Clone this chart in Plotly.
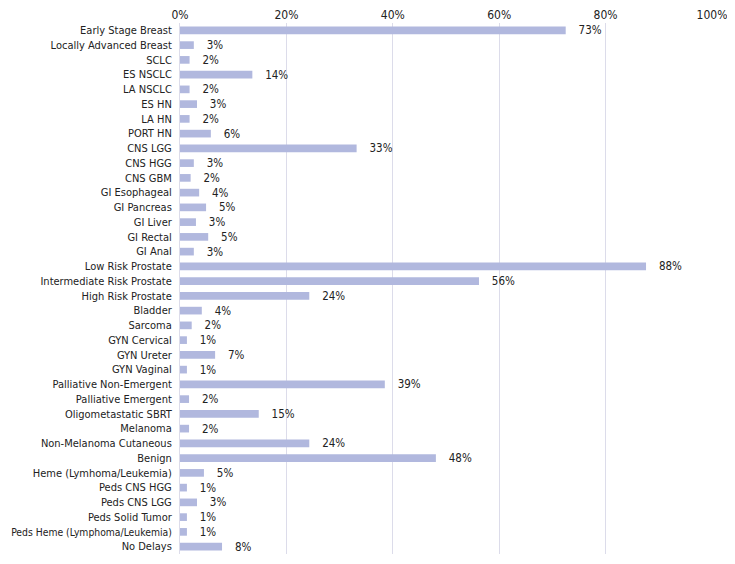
import plotly.graph_objects as go

# categories, top to bottom as in the chart
categories = [
    "Early Stage Breast", "Locally Advanced Breast", "SCLC", "ES NSCLC",
    "LA NSCLC", "ES HN", "LA HN", "PORT HN", "CNS LGG", "CNS HGG", "CNS GBM",
    "GI Esophageal", "GI Pancreas", "GI Liver", "GI Rectal", "GI Anal",
    "Low Risk Prostate", "Intermediate Risk Prostate", "High Risk Prostate",
    "Bladder", "Sarcoma", "GYN Cervical", "GYN Ureter", "GYN Vaginal",
    "Palliative Non-Emergent", "Palliative Emergent", "Oligometastatic SBRT",
    "Melanoma", "Non-Melanoma Cutaneous", "Benign",
    "Heme (Lymhoma/Leukemia)", "Peds CNS HGG", "Peds CNS LGG",
    "Peds Solid Tumor", "Peds Heme (Lymphoma/Leukemia)", "No Delays",
]

# share of respondents (%)
values = [
    72.5, 2.6, 1.8, 13.6, 1.8, 3.2, 1.8, 5.8, 33.2, 2.6, 2.0,
    3.6, 4.9, 3.0, 5.3, 2.6,
    87.6, 56.2, 24.3, 4.1, 2.2, 1.3, 6.6, 1.3,
    38.5, 1.7, 14.8, 1.7, 24.3, 48.1,
    4.5, 1.3, 3.2, 1.3, 1.3, 7.9,
]

# printed labels
labels = [
    "73%", "3%", "2%", "14%", "2%", "3%", "2%", "6%", "33%", "3%", "2%",
    "4%", "5%", "3%", "5%", "3%",
    "88%", "56%", "24%", "4%", "2%", "1%", "7%", "1%",
    "39%", "2%", "15%", "2%", "24%", "48%",
    "5%", "1%", "3%", "1%", "1%", "8%",
]

font_name = "DejaVu Sans Condensed"

# longest label would run off the left edge, so draw it a touch smaller
tick_text = []
for c in categories:
    if len(c) > 26:
        tick_text.append('<span style="font-size:10.3px">' + c + "</span>")
    else:
        tick_text.append(c)

fig = go.Figure()
fig.add_trace(go.Bar(
    x=values, y=categories, orientation="h",
    text=["   " + t for t in labels], textposition="outside",
    constraintext="none",
    textfont=dict(family=font_name, size=11.5, color="#222222"),
    cliponaxis=False,
    marker=dict(color="#b1b8de", line=dict(width=0)),
    width=0.52,
))

# the page body adds an 8px offset, so margins are set relative to that
fig.update_layout(
    width=735, height=564,
    margin=dict(l=172, r=31, t=15, b=18),
    paper_bgcolor="white", plot_bgcolor="white",
    font=dict(family=font_name, size=11, color="#222222"),
    showlegend=False,
    xaxis=dict(
        side="top", range=[0, 100], dtick=20, ticksuffix="%",
        showgrid=True, gridcolor="#dcdcea", gridwidth=1,
        zeroline=False, showline=False, automargin=False,
        tickfont=dict(size=12), ticklabelstandoff=1,
    ),
    yaxis=dict(
        autorange="reversed", showgrid=False, zeroline=False,
        showline=True, linecolor="#dcdcea", linewidth=1,
        tickmode="array", tickvals=categories, ticktext=tick_text,
        ticks="", ticklabelstandoff=5, automargin=False,
    ),
)

fig.write_html("out.html")
